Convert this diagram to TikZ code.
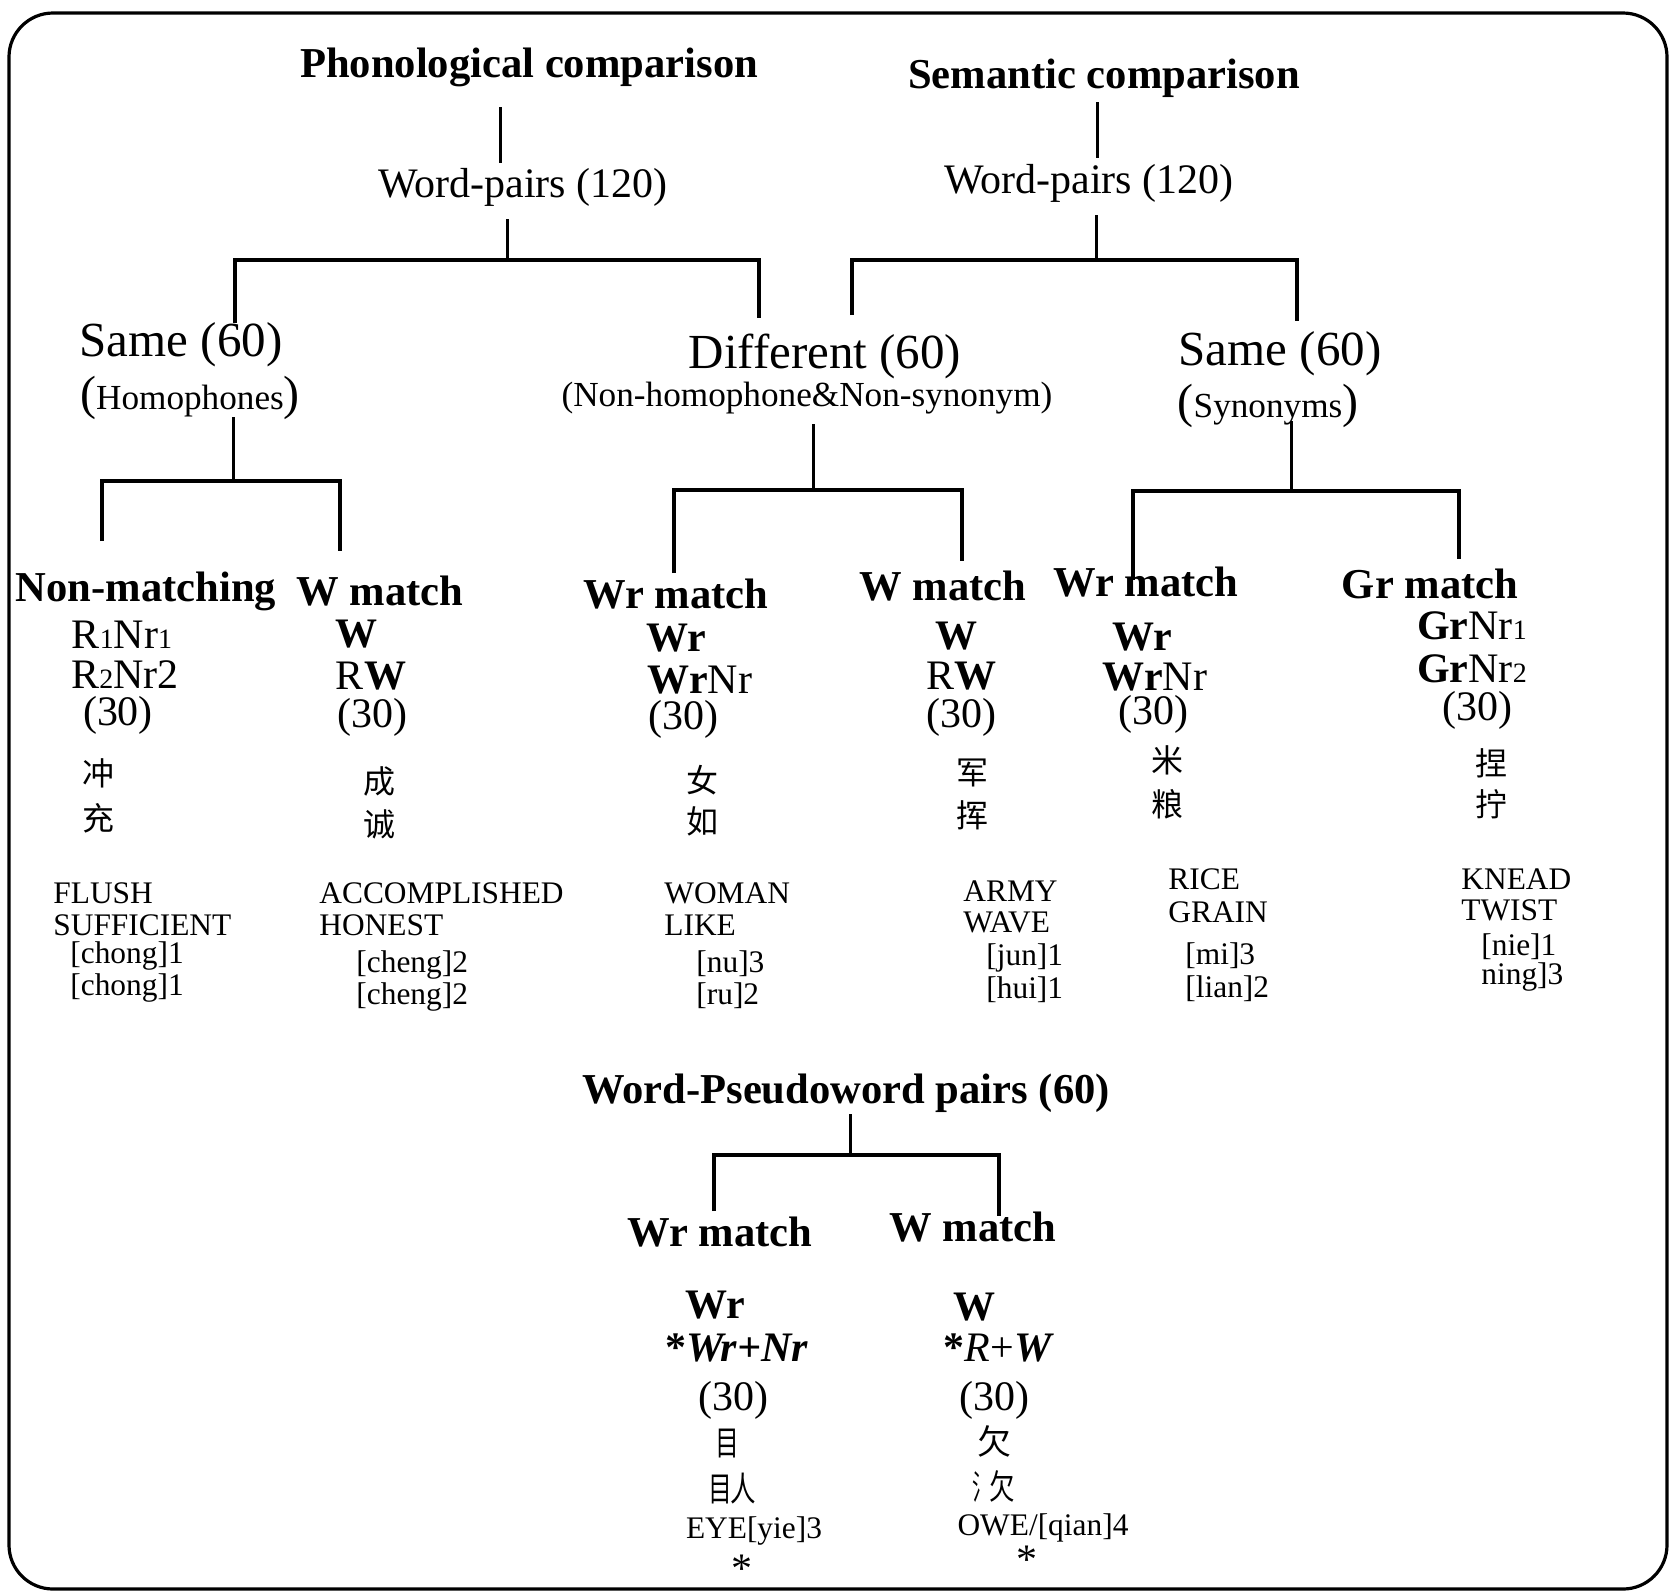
\documentclass[tikz,border=0pt]{standalone}
\usepackage{fontspec}
\usepackage{graphicx}
\setmainfont{Liberation Serif}
\newfontfamily\cjk{Noto Sans CJK SC}
\newcommand\fs[1]{\fontsize{#1}{#1}\selectfont}
\newcommand\sd[1]{{\fs{14}#1}}
\newcommand\bp[1]{{\fs{24}#1}}
\begin{document}
\begin{tikzpicture}[x=0.5pt,y=-0.5pt,
  every node/.style={inner sep=0pt,yshift=-1.5pt},
  hd/.style={font=\fs{21.3}\bfseries},
  t/.style={font=\fs{21}},
  big/.style={font=\fs{24.5}},
  paren/.style={font=\fs{17.6}},
  word/.style={anchor=west,font=\fs{15.7}},
  zi/.style={font=\cjk\fs{16}},
  hand/.style={font=\cjk\fs{17}},
  link/.style={line width=1.5pt},
  tree/.style={line width=1.8pt,line join=miter}]
\useasboundingbox (0,0) rectangle (1676,1592);
\draw[line width=1.6pt,rounded corners=22pt] (9,13) rectangle (1667,1589);

% ---- top level ----
\node[hd] (phon) at (529,64) {Phonological comparison};
\node[hd] (sem)  at (1104,75) {Semantic comparison};
\node[t] (wpA) at (523,184) {Word-pairs (120)};
\node[t] (wpB) at (1089,180) {Word-pairs (120)};

\node[big] (sameA) at (181,342) {Same (60)};
\node[paren] (homA) at (190,395) {\bp{(}Homophones\bp{)}};
\node[big] (diff) at (825,353) {Different (60)};
\node[paren] (nonh) at (807,395) {(Non-homophone\&Non-synonym)};
\node[big] (sameB) at (1280,351) {Same (60)};
\node[paren] (synB) at (1268,403) {\bp{(}Synonyms\bp{)}};

% ---- column 1: non-matching ----
\node[hd] (c1h) at (146,588) {Non-matching};
\node[t] (c1a) at (122,632) {R\sd{1}Nr\sd{1}};
\node[t] (c1b) at (125,672) {R\sd{2}Nr2};
\node[t] (c1n) at (118,712) {(30)};
\node[zi] (c1z1) at (98,770) {冲};
\node[zi] (c1z2) at (98,815) {充};
\node[word] (c1e1) at (53,890) {FLUSH};
\node[word] (c1e2) at (53,922) {SUFFICIENT};
\node[word] (c1p1) at (70,953) {[chong]1};
\node[word] (c1p2) at (70,985) {[chong]1};

% ---- column 2: W match ----
\node[hd] (c2h) at (380,588) {W match};
\node[t] (c2a) at (356,631) {\textbf{W}};
\node[t] (c2b) at (371,673) {R\textbf{W}};
\node[t] (c2n) at (372,714) {(30)};
\node[zi] (c2z1) at (379,778) {成};
\node[zi] (c2z2) at (379,821) {诚};
\node[word] (c2e1) at (319,890) {ACCOMPLISHED};
\node[word] (c2e2) at (319,922) {HONEST};
\node[word] (c2p1) at (356,962) {[cheng]2};
\node[word] (c2p2) at (356,994) {[cheng]2};

% ---- column 3: Wr match ----
\node[hd] (c3h) at (676,591) {Wr match};
\node[t] (c3a) at (676,635) {\textbf{Wr}};
\node[t] (c3b) at (700,677) {\textbf{Wr}Nr};
\node[t] (c3n) at (683,716) {(30)};
\node[zi] (c3z1) at (702,777) {女};
\node[zi] (c3z2) at (702,818) {如};
\node[word] (c3e1) at (664,890) {WOMAN};
\node[word] (c3e2) at (664,922) {LIKE};
\node[word] (c3p1) at (696,961) {[nu]3};
\node[word] (c3p2) at (696,993) {[ru]2};

% ---- column 4: W match ----
\node[hd] (c4h) at (943,583) {W match};
\node[t] (c4a) at (956,633) {\textbf{W}};
\node[t] (c4b) at (961,673) {R\textbf{W}};
\node[t] (c4n) at (961,714) {(30)};
\node[zi] (c4z1) at (972,770) {军};
\node[zi] (c4z2) at (972,812) {挥};
\node[word] (c4e1) at (963,888) {ARMY};
\node[word] (c4e2) at (963,919) {WAVE};
\node[word] (c4p1) at (986,955) {[jun]1};
\node[word] (c4p2) at (986,987) {[hui]1};

% ---- column 5: Wr match ----
\node[hd] (c5h) at (1146,579) {Wr match};
\node[t] (c5a) at (1142,634) {\textbf{Wr}};
\node[t] (c5b) at (1155,674) {\textbf{Wr}Nr};
\node[t] (c5n) at (1153,711) {(30)};
\node[zi] (c5z1) at (1167,757) {米};
\node[zi] (c5z2) at (1167,801) {粮};
\node[word] (c5e1) at (1168,876) {RICE};
\node[word] (c5e2) at (1168,909) {GRAIN};
\node[word] (c5p1) at (1185,953) {[mi]3};
\node[word] (c5p2) at (1185,986) {[lian]2};

% ---- column 6: Gr match ----
\node[hd] (c6h) at (1430,581) {Gr match};
\node[t] (c6a) at (1472,623) {\textbf{Gr}Nr\sd{1}};
\node[t] (c6b) at (1472,666) {\textbf{Gr}Nr\sd{2}};
\node[t] (c6n) at (1477,707) {(30)};
\node[zi] (c6z1) at (1491,760) {捏};
\node[zi] (c6z2) at (1491,801) {拧};
\node[word] (c6e1) at (1461,876) {KNEAD};
\node[word] (c6e2) at (1461,907) {TWIST};
\node[word] (c6p1) at (1481,944) {[nie]1};
\node[word] (c6p2) at (1481,974) {ning]3};

% ---- word / pseudoword block ----
\node[hd] (wpp) at (846,1090) {Word-Pseudoword pairs (60)};
\node[hd] (b1h) at (720,1229) {Wr match};
\node[hd] (b2h) at (973,1224) {W match};
\node[t] (b1a) at (715,1302) {\textbf{Wr}};
\node[t] (b1b) at (737,1345) {\textbf{*\textit{Wr+Nr}}};
\node[t] (b1n) at (733,1397) {(30)};
\node[hand] (b1z1) at (727,1441) {\scalebox{0.7}[1]{目}};
\node[hand] (b1z2) at (732,1486) {\scalebox{0.7}[1]{目}\kern-1pt\scalebox{0.75}[1]{人}};
\node[word,anchor=center] (b1p) at (754,1528) {EYE[yie]3};
\node[t] (b1s) at (742,1566) {*};
\node[t] (b2a) at (974,1304) {\textbf{W}};
\node[t] (b2b) at (999,1345) {\textbf{*}\textit{R}+\textbf{\textit{W}}};
\node[t] (b2n) at (994,1397) {(30)};
\node[hand] (b2z1) at (994,1438) {欠};
\node[hand] (b2z2) at (994,1484) {\scalebox{0.55}[1]{氵}\kern-1pt\scalebox{0.75}[1]{欠}};
\node[word,anchor=center] (b2p) at (1043,1525) {OWE/[qian]4};
\node[t] (b2s) at (1027,1557) {*};

% ---- junction points of the trees ----
\coordinate (pA1) at (500,104);  \coordinate (pA2) at (500,160);
\coordinate (pA3) at (507,216);  \coordinate (jA) at (507,257);
\coordinate (sA) at (235,320);   \coordinate (dA) at (759,315);
\coordinate (pB1) at (1097,99);  \coordinate (pB2) at (1097,155);
\coordinate (pB3) at (1096,212); \coordinate (jB) at (1096,257);
\coordinate (dB) at (852,312);   \coordinate (sB) at (1297,318);
\coordinate (hS) at (233,414);   \coordinate (jH) at (233,478);
\coordinate (h1) at (102,538);   \coordinate (h2) at (340,548);
\coordinate (dS) at (813,421);   \coordinate (jD) at (813,487);
\coordinate (d1) at (674,570);   \coordinate (d2) at (962,558);
\coordinate (yS) at (1291,418);  \coordinate (jY) at (1291,488);
\coordinate (y1) at (1133,577);  \coordinate (y2) at (1459,556);
\coordinate (wS) at (850,1111);  \coordinate (jW) at (850,1152);
\coordinate (w1) at (714,1208);  \coordinate (w2) at (999,1213);

% ---- connectors ----
\draw[link] (pA1) -- (pA2);
\draw[link] (pA3) -- (jA);
\draw[tree] (sA) |- (jA) -| (dA);
\draw[link] (pB1) -- (pB2);
\draw[link] (pB3) -- (jB);
\draw[tree] (dB) |- (jB) -| (sB);
\draw[link] (hS) -- (jH);
\draw[tree] (h1) |- (jH) -| (h2);
\draw[link] (dS) -- (jD);
\draw[tree] (d1) |- (jD) -| (d2);
\draw[link] (yS) -- (jY);
\draw[tree] (y1) |- (jY) -| (y2);
\draw[link] (wS) -- (jW);
\draw[tree] (w1) |- (jW) -| (w2);
\end{tikzpicture}
\end{document}
